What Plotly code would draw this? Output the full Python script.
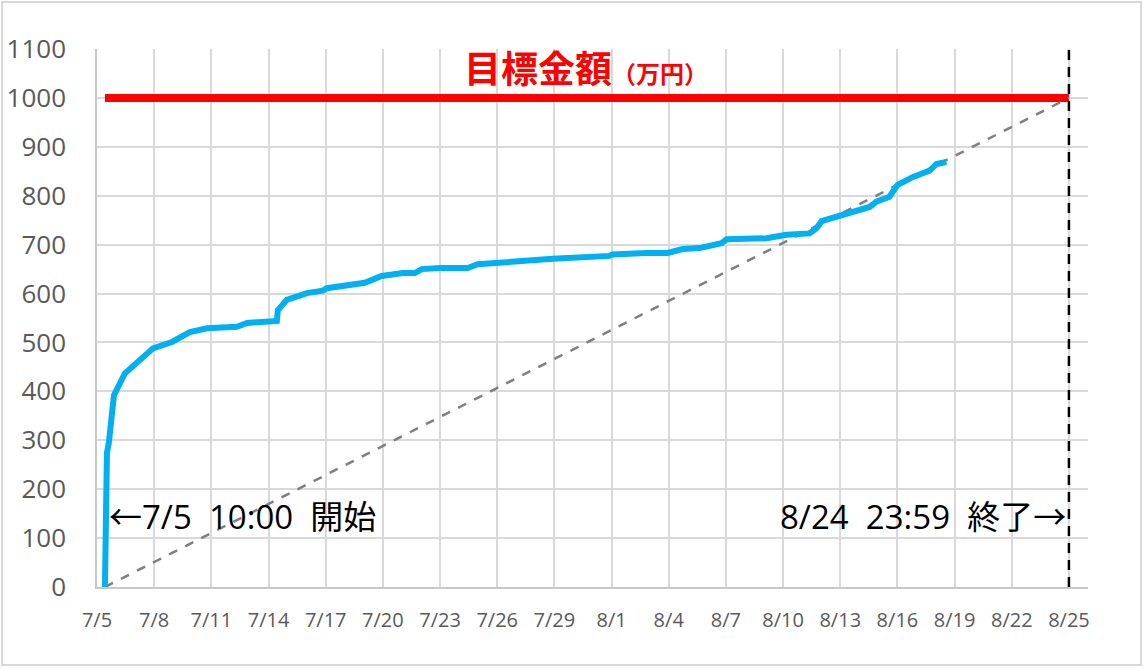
import plotly.graph_objects as go

# 累計支援額（万円）
times = [
    "2019-07-05 10:00", "2019-07-05 10:50", "2019-07-05 11:15", "2019-07-05 12:30",
    "2019-07-05 15:00", "2019-07-05 17:30", "2019-07-05 21:20", "2019-07-06 11:15",
    "2019-07-07 06:00", "2019-07-07 22:30", "2019-07-08 22:20", "2019-07-09 21:00",
    "2019-07-10 18:30", "2019-07-12 08:10", "2019-07-12 21:00", "2019-07-14 10:30",
    "2019-07-14 11:45", "2019-07-14 23:00", "2019-07-16 00:15", "2019-07-16 20:30",
    "2019-07-17 01:30", "2019-07-18 02:40", "2019-07-19 01:10", "2019-07-19 22:30",
    "2019-07-21 01:10", "2019-07-21 16:20", "2019-07-22 01:00", "2019-07-22 23:45",
    "2019-07-24 10:50", "2019-07-24 23:30", "2019-07-25 23:30", "2019-07-27 00:30",
    "2019-07-28 21:50", "2019-07-31 21:35", "2019-08-01 01:25", "2019-08-02 20:10",
    "2019-08-03 22:35", "2019-08-04 17:30", "2019-08-05 14:50", "2019-08-06 18:30",
    "2019-08-07 01:00", "2019-08-09 03:10", "2019-08-10 04:20", "2019-08-11 09:20",
    "2019-08-11 18:15", "2019-08-12 00:30", "2019-08-12 23:00", "2019-08-14 13:00",
    "2019-08-14 21:35", "2019-08-15 13:55", "2019-08-16 00:00", "2019-08-16 19:00",
    "2019-08-17 16:20", "2019-08-18 01:10", "2019-08-18 13:40",
]
amounts = [
    0, 150, 200, 274, 296, 330, 392, 437,
    464, 488, 501, 521, 529, 532, 540, 544,
    566, 587, 601, 606, 611, 616, 622, 636,
    642, 642, 650, 652, 652, 660, 663, 668,
    671, 677, 680, 683, 683, 691, 693, 703,
    711, 713, 720, 723, 734, 748, 759, 777,
    788, 798, 822, 838, 851, 865, 869,
]

start = "2019-07-05 10:00"
end = "2019-08-24 23:59"
goal = 1000
y_max = 1100

x_range = ["2019-07-05", "2019-08-26"]
tick_start = "2019-07-05"
tick_days = 3

fig = go.Figure()

# 目標金額ライン
fig.add_trace(go.Scatter(x=[start, end], y=[goal, goal], mode="lines",
                         line=dict(color="#FF0000", width=8)))
# ペースライン
fig.add_trace(go.Scatter(x=[start, end], y=[0, goal], mode="lines",
                         line=dict(color="#7F7F7F", width=2.5, dash="dash")))
# 終了日
fig.add_trace(go.Scatter(x=[end, end], y=[0, y_max], mode="lines",
                         line=dict(color="#000000", width=2.5, dash="10px,7px")))
# 実績
fig.add_trace(go.Scatter(x=times, y=amounts, mode="lines",
                         line=dict(color="#00B0F0", width=6)))

jp = "Open Sans, Noto Sans CJK JP"

fig.add_annotation(x=start, y=145, xanchor="left", yanchor="middle", xshift=2,
                   text="←7/5&nbsp; 10:00&nbsp; 開始", showarrow=False,
                   font=dict(family=jp, size=33, color="#000000"))
fig.add_annotation(x=end, y=145, xanchor="right", yanchor="middle", xshift=-1,
                   text="8/24&nbsp; 23:59&nbsp; 終了→", showarrow=False,
                   font=dict(family=jp, size=33, color="#000000"))
fig.add_annotation(xref="paper", yref="paper", x=0.493, y=0.966,
                   xanchor="center", yanchor="middle", showarrow=False,
                   text="<b>目標金額</b><b><span style='font-size:24px'>（万円）</span></b>",
                   font=dict(family="Noto Sans CJK JP", size=37, color="#FF0000"))

W, H = 1144, 668
ml, mr, mt, mb = 97, 56, 49, 81
pw, ph = W - ml - mr, H - mt - mb

# 外枠
fig.add_shape(type="rect", xref="paper", yref="paper",
              x0=-(ml - 2) / pw, x1=1 + (mr - 3) / pw,
              y0=-(mb - 3) / ph, y1=1 + (mt - 2) / ph,
              line=dict(color="#D9D9D9", width=2))

fig.update_layout(
    width=W, height=H, autosize=False,
    margin=dict(l=ml, r=mr, t=mt, b=mb),
    paper_bgcolor="white", plot_bgcolor="white",
    showlegend=False, hovermode=False,
)
fig.update_xaxes(
    type="date", range=x_range, tick0=tick_start, dtick=tick_days * 86400000,
    tickformat="%-m/%-d", showgrid=True, gridcolor="#D9D9D9", gridwidth=1.5,
    showline=True, linecolor="#C8C8C8", linewidth=1.5, ticks="",
    ticklabelstandoff=14, automargin=False,
    tickfont=dict(family="Open Sans", size=20, color="#595959"),
)
fig.update_yaxes(
    range=[0, y_max], dtick=100, showgrid=True, gridcolor="#D9D9D9", gridwidth=1.5,
    showline=True, linecolor="#C8C8C8", linewidth=1.5, zeroline=False, ticks="",
    ticklabelstandoff=24, automargin=False,
    tickfont=dict(family="Open Sans", size=26, color="#595959"),
)

# ページ余白をなくして図を左上に寄せる
fig.write_html("out.html", config={"displayModeBar": False},
               post_script="document.body.style.margin='0';")
